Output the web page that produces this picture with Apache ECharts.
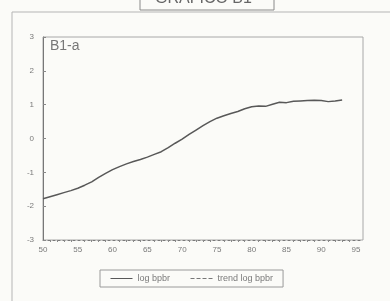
<!DOCTYPE html>
<html>
<head>
<meta charset="utf-8">
<script src="https://cdn.jsdelivr.net/npm/echarts@6/dist/echarts.min.js"></script>
<style>
  html, body { margin: 0; padding: 0; background: #fbfbf8; }
  #chart { width: 390px; height: 301px; }
</style>
</head>
<body>
<div id="chart"></div>
<script>
// anni (19xx) e valori log bpbr
const years = [50, 51, 52, 53, 54, 55, 56, 57, 58, 59, 60, 61, 62, 63, 64, 65, 66, 67, 68, 69, 70, 71,
  72, 73, 74, 75, 76, 77, 78, 79, 80, 81, 82, 83, 84, 85, 86, 87, 88, 89, 90, 91, 92, 93]
const logBpbr = [-1.78, -1.72, -1.66, -1.60, -1.54, -1.47, -1.38, -1.28, -1.15, -1.03, -0.92, -0.83,
  -0.75, -0.68, -0.62, -0.55, -0.47, -0.39, -0.27, -0.14, -0.02, 0.12, 0.25, 0.38, 0.50, 0.60,
  0.67, 0.74, 0.80, 0.88, 0.94, 0.96, 0.95, 1.01, 1.07, 1.06, 1.10, 1.11, 1.12, 1.13, 1.12, 1.09,
  1.11, 1.14]
const seriesNames = ['log bpbr', 'trend log bpbr']

const textColor = '#7a7a7a'
const chart = echarts.init(document.getElementById('chart'))

chart.setOption({
  backgroundColor: '#fbfbf8',
  animation: false,
  textStyle: { fontFamily: 'Liberation Sans, Arial, sans-serif' },
  grid: {
    left: 43, right: 27, top: 37, bottom: 61,
    show: true,
    borderColor: '#a8a8a8',
    borderWidth: 1,
  },
  xAxis: {
    type: 'value',
    min: 50,
    max: 96,
    interval: 5,
    axisLine: { onZero: false, lineStyle: { color: '#7a7a7a', type: [2, 3], width: 1 } },
    axisTick: { show: false },
    minorTick: { show: true, splitNumber: 5, length: 2, lineStyle: { color: '#8a8a8a' } },
    axisLabel: { color: textColor, fontSize: 8, margin: 6, showMaxLabel: false },
    splitLine: { show: false },
  },
  yAxis: {
    type: 'value',
    min: -3,
    max: 3,
    interval: 1,
    axisLine: { show: true, lineStyle: { color: '#777', width: 1 } },
    axisTick: { show: true, inside: true, length: 3, lineStyle: { color: '#888' } },
    axisLabel: { color: textColor, fontSize: 8, margin: 9 },
    splitLine: { show: false },
  },
  legend: {
    left: 100,
    top: 270,
    width: 203,
    padding: [4, 10],
    itemGap: 20,
    itemWidth: 22,
    itemHeight: 8,
    borderColor: '#9a9a9a',
    borderWidth: 1,
    itemStyle: { opacity: 0 },
    lineStyle: { width: 1 },
    textStyle: { color: textColor, fontSize: 9 },
    data: seriesNames,
  },
  graphic: [
    {
      type: 'rect',
      shape: { x: 12, y: 12, width: 380, height: 295 },
      style: { fill: 'none', stroke: '#b5b5b5', lineWidth: 1 },
      silent: true,
    },
    {
      type: 'rect',
      shape: { x: 140, y: -10, width: 134, height: 20 },
      style: { fill: '#fbfbf8', stroke: '#8a8a8a', lineWidth: 1 },
      silent: true,
    },
    {
      type: 'text',
      left: 207 - 52,
      top: -9,
      style: { text: 'GRAFICO B1', fill: '#666', fontSize: 16, fontFamily: 'Liberation Sans, Arial, sans-serif' },
      silent: true,
    },
    {
      type: 'text',
      left: 50,
      top: 39,
      style: { text: 'B1-a', fill: '#777', fontSize: 14, fontFamily: 'Liberation Sans, Arial, sans-serif' },
      silent: true,
    },
  ],
  series: [
    {
      name: seriesNames[0],
      type: 'line',
      symbol: 'none',
      lineStyle: { color: '#585858', width: 1.5 },
      itemStyle: { color: '#585858' },
      data: years.map((y, i) => [y, logBpbr[i]]),
    },
    {
      name: seriesNames[1],
      type: 'line',
      symbol: 'none',
      lineStyle: { color: '#777', width: 1, type: 'dashed' },
      itemStyle: { color: '#777' },
      data: [],
    },
  ],
})
</script>
</body>
</html>
